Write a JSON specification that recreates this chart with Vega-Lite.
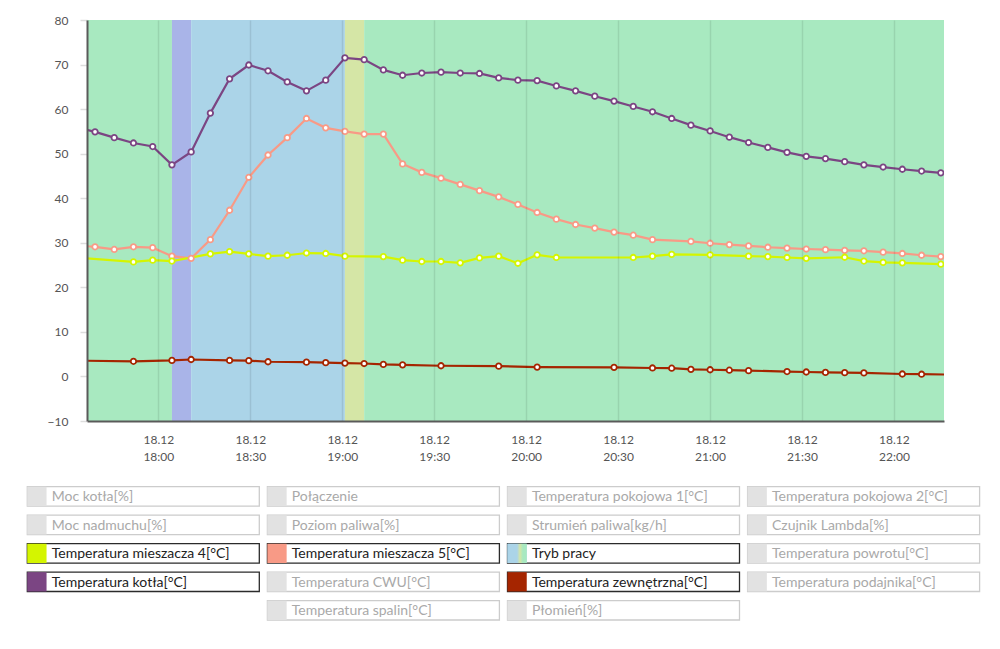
{
  "$schema": "https://vega.github.io/schema/vega-lite/v6.json",
  "autosize": {"type": "none"},
  "padding": {"left": 87, "top": 20, "right": 56, "bottom": 228},
  "width": 857,
  "height": 401,
  "background": "white",
  "config": {"font": "Lato", "view": {"stroke": null}},
  "datasets": {
    "temps": [
      {"s": "Temperatura kotła[°C]", "t": 1053.08, "v": 56.0},
      {"s": "Temperatura kotła[°C]", "t": 1059.35, "v": 54.9},
      {"s": "Temperatura kotła[°C]", "t": 1065.62, "v": 53.6},
      {"s": "Temperatura kotła[°C]", "t": 1071.89, "v": 52.4},
      {"s": "Temperatura kotła[°C]", "t": 1078.16, "v": 51.6},
      {"s": "Temperatura kotła[°C]", "t": 1084.44, "v": 47.5},
      {"s": "Temperatura kotła[°C]", "t": 1090.71, "v": 50.4},
      {"s": "Temperatura kotła[°C]", "t": 1096.98, "v": 59.1},
      {"s": "Temperatura kotła[°C]", "t": 1103.25, "v": 66.8},
      {"s": "Temperatura kotła[°C]", "t": 1109.52, "v": 69.9},
      {"s": "Temperatura kotła[°C]", "t": 1115.79, "v": 68.6},
      {"s": "Temperatura kotła[°C]", "t": 1122.06, "v": 66.1},
      {"s": "Temperatura kotła[°C]", "t": 1128.33, "v": 64.1},
      {"s": "Temperatura kotła[°C]", "t": 1134.61, "v": 66.5},
      {"s": "Temperatura kotła[°C]", "t": 1140.88, "v": 71.5},
      {"s": "Temperatura kotła[°C]", "t": 1147.15, "v": 71.1},
      {"s": "Temperatura kotła[°C]", "t": 1153.42, "v": 68.8},
      {"s": "Temperatura kotła[°C]", "t": 1159.69, "v": 67.6},
      {"s": "Temperatura kotła[°C]", "t": 1165.96, "v": 68.1},
      {"s": "Temperatura kotła[°C]", "t": 1172.23, "v": 68.3},
      {"s": "Temperatura kotła[°C]", "t": 1178.50, "v": 68.1},
      {"s": "Temperatura kotła[°C]", "t": 1184.78, "v": 68.0},
      {"s": "Temperatura kotła[°C]", "t": 1191.05, "v": 67.0},
      {"s": "Temperatura kotła[°C]", "t": 1197.32, "v": 66.5},
      {"s": "Temperatura kotła[°C]", "t": 1203.59, "v": 66.4},
      {"s": "Temperatura kotła[°C]", "t": 1209.86, "v": 65.2},
      {"s": "Temperatura kotła[°C]", "t": 1216.13, "v": 64.1},
      {"s": "Temperatura kotła[°C]", "t": 1222.40, "v": 62.9},
      {"s": "Temperatura kotła[°C]", "t": 1228.68, "v": 61.8},
      {"s": "Temperatura kotła[°C]", "t": 1234.95, "v": 60.6},
      {"s": "Temperatura kotła[°C]", "t": 1241.22, "v": 59.4},
      {"s": "Temperatura kotła[°C]", "t": 1247.49, "v": 57.9},
      {"s": "Temperatura kotła[°C]", "t": 1253.76, "v": 56.4},
      {"s": "Temperatura kotła[°C]", "t": 1260.03, "v": 55.1},
      {"s": "Temperatura kotła[°C]", "t": 1266.30, "v": 53.7},
      {"s": "Temperatura kotła[°C]", "t": 1272.57, "v": 52.5},
      {"s": "Temperatura kotła[°C]", "t": 1278.85, "v": 51.4},
      {"s": "Temperatura kotła[°C]", "t": 1285.12, "v": 50.3},
      {"s": "Temperatura kotła[°C]", "t": 1291.39, "v": 49.4},
      {"s": "Temperatura kotła[°C]", "t": 1297.66, "v": 48.9},
      {"s": "Temperatura kotła[°C]", "t": 1303.93, "v": 48.2},
      {"s": "Temperatura kotła[°C]", "t": 1310.20, "v": 47.5},
      {"s": "Temperatura kotła[°C]", "t": 1316.47, "v": 47.0},
      {"s": "Temperatura kotła[°C]", "t": 1322.74, "v": 46.5},
      {"s": "Temperatura kotła[°C]", "t": 1329.02, "v": 46.1},
      {"s": "Temperatura kotła[°C]", "t": 1335.29, "v": 45.7},

      {"s": "Temperatura mieszacza 5[°C]", "t": 1053.08, "v": 29.4},
      {"s": "Temperatura mieszacza 5[°C]", "t": 1059.35, "v": 29.1},
      {"s": "Temperatura mieszacza 5[°C]", "t": 1065.62, "v": 28.5},
      {"s": "Temperatura mieszacza 5[°C]", "t": 1071.89, "v": 29.1},
      {"s": "Temperatura mieszacza 5[°C]", "t": 1078.16, "v": 28.9},
      {"s": "Temperatura mieszacza 5[°C]", "t": 1084.44, "v": 27.0},
      {"s": "Temperatura mieszacza 5[°C]", "t": 1090.71, "v": 26.5},
      {"s": "Temperatura mieszacza 5[°C]", "t": 1096.98, "v": 30.7},
      {"s": "Temperatura mieszacza 5[°C]", "t": 1103.25, "v": 37.3},
      {"s": "Temperatura mieszacza 5[°C]", "t": 1109.52, "v": 44.7},
      {"s": "Temperatura mieszacza 5[°C]", "t": 1115.79, "v": 49.7},
      {"s": "Temperatura mieszacza 5[°C]", "t": 1122.06, "v": 53.6},
      {"s": "Temperatura mieszacza 5[°C]", "t": 1128.33, "v": 57.9},
      {"s": "Temperatura mieszacza 5[°C]", "t": 1134.61, "v": 55.8},
      {"s": "Temperatura mieszacza 5[°C]", "t": 1140.88, "v": 55.0},
      {"s": "Temperatura mieszacza 5[°C]", "t": 1147.15, "v": 54.4},
      {"s": "Temperatura mieszacza 5[°C]", "t": 1153.42, "v": 54.4},
      {"s": "Temperatura mieszacza 5[°C]", "t": 1159.69, "v": 47.7},
      {"s": "Temperatura mieszacza 5[°C]", "t": 1165.96, "v": 45.8},
      {"s": "Temperatura mieszacza 5[°C]", "t": 1172.23, "v": 44.5},
      {"s": "Temperatura mieszacza 5[°C]", "t": 1178.50, "v": 43.1},
      {"s": "Temperatura mieszacza 5[°C]", "t": 1184.78, "v": 41.7},
      {"s": "Temperatura mieszacza 5[°C]", "t": 1191.05, "v": 40.3},
      {"s": "Temperatura mieszacza 5[°C]", "t": 1197.32, "v": 38.6},
      {"s": "Temperatura mieszacza 5[°C]", "t": 1203.59, "v": 36.8},
      {"s": "Temperatura mieszacza 5[°C]", "t": 1209.86, "v": 35.3},
      {"s": "Temperatura mieszacza 5[°C]", "t": 1216.13, "v": 34.1},
      {"s": "Temperatura mieszacza 5[°C]", "t": 1222.40, "v": 33.3},
      {"s": "Temperatura mieszacza 5[°C]", "t": 1228.68, "v": 32.4},
      {"s": "Temperatura mieszacza 5[°C]", "t": 1234.95, "v": 31.7},
      {"s": "Temperatura mieszacza 5[°C]", "t": 1241.22, "v": 30.7},
      {"s": "Temperatura mieszacza 5[°C]", "t": 1253.76, "v": 30.3},
      {"s": "Temperatura mieszacza 5[°C]", "t": 1260.03, "v": 29.9},
      {"s": "Temperatura mieszacza 5[°C]", "t": 1266.30, "v": 29.6},
      {"s": "Temperatura mieszacza 5[°C]", "t": 1272.57, "v": 29.3},
      {"s": "Temperatura mieszacza 5[°C]", "t": 1278.85, "v": 29.0},
      {"s": "Temperatura mieszacza 5[°C]", "t": 1285.12, "v": 28.8},
      {"s": "Temperatura mieszacza 5[°C]", "t": 1291.39, "v": 28.6},
      {"s": "Temperatura mieszacza 5[°C]", "t": 1297.66, "v": 28.45},
      {"s": "Temperatura mieszacza 5[°C]", "t": 1303.93, "v": 28.3},
      {"s": "Temperatura mieszacza 5[°C]", "t": 1310.20, "v": 28.2},
      {"s": "Temperatura mieszacza 5[°C]", "t": 1316.47, "v": 27.9},
      {"s": "Temperatura mieszacza 5[°C]", "t": 1322.74, "v": 27.6},
      {"s": "Temperatura mieszacza 5[°C]", "t": 1329.02, "v": 27.2},
      {"s": "Temperatura mieszacza 5[°C]", "t": 1335.29, "v": 26.9},

      {"s": "Temperatura mieszacza 4[°C]", "t": 1053.08, "v": 26.7},
      {"s": "Temperatura mieszacza 4[°C]", "t": 1071.89, "v": 25.7},
      {"s": "Temperatura mieszacza 4[°C]", "t": 1078.16, "v": 26.1},
      {"s": "Temperatura mieszacza 4[°C]", "t": 1084.44, "v": 25.9},
      {"s": "Temperatura mieszacza 4[°C]", "t": 1096.98, "v": 27.5},
      {"s": "Temperatura mieszacza 4[°C]", "t": 1103.25, "v": 28.0},
      {"s": "Temperatura mieszacza 4[°C]", "t": 1109.52, "v": 27.5},
      {"s": "Temperatura mieszacza 4[°C]", "t": 1115.79, "v": 27.0},
      {"s": "Temperatura mieszacza 4[°C]", "t": 1122.06, "v": 27.2},
      {"s": "Temperatura mieszacza 4[°C]", "t": 1128.33, "v": 27.7},
      {"s": "Temperatura mieszacza 4[°C]", "t": 1134.61, "v": 27.6},
      {"s": "Temperatura mieszacza 4[°C]", "t": 1140.88, "v": 27.0},
      {"s": "Temperatura mieszacza 4[°C]", "t": 1153.42, "v": 26.9},
      {"s": "Temperatura mieszacza 4[°C]", "t": 1159.69, "v": 26.1},
      {"s": "Temperatura mieszacza 4[°C]", "t": 1165.96, "v": 25.8},
      {"s": "Temperatura mieszacza 4[°C]", "t": 1172.23, "v": 25.8},
      {"s": "Temperatura mieszacza 4[°C]", "t": 1178.50, "v": 25.5},
      {"s": "Temperatura mieszacza 4[°C]", "t": 1184.78, "v": 26.6},
      {"s": "Temperatura mieszacza 4[°C]", "t": 1191.05, "v": 27.0},
      {"s": "Temperatura mieszacza 4[°C]", "t": 1197.32, "v": 25.4},
      {"s": "Temperatura mieszacza 4[°C]", "t": 1203.59, "v": 27.3},
      {"s": "Temperatura mieszacza 4[°C]", "t": 1209.86, "v": 26.7},
      {"s": "Temperatura mieszacza 4[°C]", "t": 1234.95, "v": 26.7},
      {"s": "Temperatura mieszacza 4[°C]", "t": 1241.22, "v": 27.0},
      {"s": "Temperatura mieszacza 4[°C]", "t": 1247.49, "v": 27.4},
      {"s": "Temperatura mieszacza 4[°C]", "t": 1260.03, "v": 27.3},
      {"s": "Temperatura mieszacza 4[°C]", "t": 1272.57, "v": 27.0},
      {"s": "Temperatura mieszacza 4[°C]", "t": 1278.85, "v": 26.9},
      {"s": "Temperatura mieszacza 4[°C]", "t": 1285.12, "v": 26.7},
      {"s": "Temperatura mieszacza 4[°C]", "t": 1291.39, "v": 26.5},
      {"s": "Temperatura mieszacza 4[°C]", "t": 1303.93, "v": 26.75},
      {"s": "Temperatura mieszacza 4[°C]", "t": 1310.20, "v": 25.9},
      {"s": "Temperatura mieszacza 4[°C]", "t": 1316.47, "v": 25.6},
      {"s": "Temperatura mieszacza 4[°C]", "t": 1322.74, "v": 25.5},
      {"s": "Temperatura mieszacza 4[°C]", "t": 1335.29, "v": 25.2},

      {"s": "Temperatura zewnętrzna[°C]", "t": 1053.08, "v": 3.55},
      {"s": "Temperatura zewnętrzna[°C]", "t": 1071.89, "v": 3.4},
      {"s": "Temperatura zewnętrzna[°C]", "t": 1084.44, "v": 3.6},
      {"s": "Temperatura zewnętrzna[°C]", "t": 1090.71, "v": 3.8},
      {"s": "Temperatura zewnętrzna[°C]", "t": 1103.25, "v": 3.6},
      {"s": "Temperatura zewnętrzna[°C]", "t": 1109.52, "v": 3.55},
      {"s": "Temperatura zewnętrzna[°C]", "t": 1115.79, "v": 3.3},
      {"s": "Temperatura zewnętrzna[°C]", "t": 1128.33, "v": 3.2},
      {"s": "Temperatura zewnętrzna[°C]", "t": 1134.61, "v": 3.1},
      {"s": "Temperatura zewnętrzna[°C]", "t": 1140.88, "v": 3.0},
      {"s": "Temperatura zewnętrzna[°C]", "t": 1147.15, "v": 2.9},
      {"s": "Temperatura zewnętrzna[°C]", "t": 1153.42, "v": 2.7},
      {"s": "Temperatura zewnętrzna[°C]", "t": 1159.69, "v": 2.6},
      {"s": "Temperatura zewnętrzna[°C]", "t": 1172.23, "v": 2.4},
      {"s": "Temperatura zewnętrzna[°C]", "t": 1191.05, "v": 2.3},
      {"s": "Temperatura zewnętrzna[°C]", "t": 1203.59, "v": 2.1},
      {"s": "Temperatura zewnętrzna[°C]", "t": 1228.68, "v": 2.05},
      {"s": "Temperatura zewnętrzna[°C]", "t": 1241.22, "v": 1.9},
      {"s": "Temperatura zewnętrzna[°C]", "t": 1247.49, "v": 1.85},
      {"s": "Temperatura zewnętrzna[°C]", "t": 1253.76, "v": 1.6},
      {"s": "Temperatura zewnętrzna[°C]", "t": 1260.03, "v": 1.5},
      {"s": "Temperatura zewnętrzna[°C]", "t": 1266.30, "v": 1.4},
      {"s": "Temperatura zewnętrzna[°C]", "t": 1272.57, "v": 1.3},
      {"s": "Temperatura zewnętrzna[°C]", "t": 1285.12, "v": 1.1},
      {"s": "Temperatura zewnętrzna[°C]", "t": 1291.39, "v": 1.0},
      {"s": "Temperatura zewnętrzna[°C]", "t": 1297.66, "v": 0.9},
      {"s": "Temperatura zewnętrzna[°C]", "t": 1303.93, "v": 0.85},
      {"s": "Temperatura zewnętrzna[°C]", "t": 1310.20, "v": 0.8},
      {"s": "Temperatura zewnętrzna[°C]", "t": 1322.74, "v": 0.55},
      {"s": "Temperatura zewnętrzna[°C]", "t": 1329.02, "v": 0.5},
      {"s": "Temperatura zewnętrzna[°C]", "t": 1341.56, "v": 0.4}
    ],
    "modes": [
      {"mode": "Praca", "start": 1040, "end": 1084.44},
      {"mode": "Rozpalanie", "start": 1084.44, "end": 1090.71},
      {"mode": "Stabilizacja", "start": 1090.71, "end": 1140.88},
      {"mode": "Nadzór", "start": 1140.88, "end": 1147.15},
      {"mode": "Praca", "start": 1147.15, "end": 1350}
    ],
    "legend": [
      {"name": "Moc kotła[%]", "col": 1, "row": 1, "active": false},
      {"name": "Połączenie", "col": 2, "row": 1, "active": false},
      {"name": "Temperatura pokojowa 1[°C]", "col": 3, "row": 1, "active": false},
      {"name": "Temperatura pokojowa 2[°C]", "col": 4, "row": 1, "active": false},
      {"name": "Moc nadmuchu[%]", "col": 1, "row": 2, "active": false},
      {"name": "Poziom paliwa[%]", "col": 2, "row": 2, "active": false},
      {"name": "Strumień paliwa[kg/h]", "col": 3, "row": 2, "active": false},
      {"name": "Czujnik Lambda[%]", "col": 4, "row": 2, "active": false},
      {"name": "Temperatura mieszacza 4[°C]", "col": 1, "row": 3, "active": true},
      {"name": "Temperatura mieszacza 5[°C]", "col": 2, "row": 3, "active": true},
      {"name": "Tryb pracy", "col": 3, "row": 3, "active": true},
      {"name": "Temperatura powrotu[°C]", "col": 4, "row": 3, "active": false},
      {"name": "Temperatura kotła[°C]", "col": 1, "row": 4, "active": true},
      {"name": "Temperatura CWU[°C]", "col": 2, "row": 4, "active": false},
      {"name": "Temperatura zewnętrzna[°C]", "col": 3, "row": 4, "active": true},
      {"name": "Temperatura podajnika[°C]", "col": 4, "row": 4, "active": false},
      {"name": "Temperatura spalin[°C]", "col": 2, "row": 5, "active": false},
      {"name": "Płomień[%]", "col": 3, "row": 5, "active": false}
    ]
  },
  "layer": [
    {
      "layer": [
        {
          "data": {"name": "modes"},
          "mark": {"type": "rect", "clip": true},
          "encoding": {
            "x": {
              "field": "start", "type": "quantitative",
              "scale": {"domain": [1056.73, 1336.33], "nice": false, "zero": false},
              "axis": {
                "title": null,
                "grid": true,
                "gridColor": "#000000",
                "gridOpacity": 0.09,
                "gridWidth": 1.5,
                "ticks": false,
                "domain": true,
                "domainColor": "#5a5a5a",
                "domainWidth": 2,
                "values": [1080, 1110, 1140, 1170, 1200, 1230, 1260, 1290, 1320],
                "labelExpr": "['18.12', floor(datum.value / 60) + ':' + (datum.value % 60 < 10 ? '0' : '') + (datum.value % 60)]",
                "labelFont": "Lato",
                "labelFontSize": 12,
                "labelColor": "#555555",
                "labelPadding": 13,
                "labelLineHeight": 17,
                "labelFlush": false,
                "labelOverlap": false,
                "zindex": 1
              }
            },
            "x2": {"field": "end"},
            "fill": {
              "field": "mode", "type": "nominal",
              "scale": {
                "domain": ["Praca", "Rozpalanie", "Stabilizacja", "Nadzór"],
                "range": ["#a8e9c0", "#a9b4e8", "#abd4e8", "#d5e6a6"]
              },
              "legend": null
            }
          }
        },
        {
          "data": {"name": "temps"},
          "mark": {"type": "line", "clip": true, "strokeWidth": 2.2},
          "encoding": {
            "x": {"field": "t", "type": "quantitative"},
            "y": {
              "field": "v", "type": "quantitative",
              "scale": {"domain": [-10, 80], "nice": false, "zero": false},
              "axis": {
                "title": null,
                "grid": false,
                "values": [-10, 0, 10, 20, 30, 40, 50, 60, 70, 80],
                "tickColor": "#dddddd",
                "tickSize": 7,
                "tickWidth": 1.5,
                "labelPadding": 12,
                "labelFont": "Lato",
                "labelFontSize": 12,
                "labelColor": "#555555",
                "domainColor": "#5a5a5a",
                "domainWidth": 2,
                "zindex": 1
              }
            },
            "color": {"field": "s", "type": "nominal", "legend": null},
            "detail": {"field": "s"}
          }
        },
        {
          "data": {"name": "temps"},
          "mark": {"type": "point", "clip": true, "filled": false, "fill": "white", "fillOpacity": 1, "opacity": 1, "size": 30, "strokeWidth": 1.8},
          "encoding": {
            "x": {"field": "t", "type": "quantitative"},
            "y": {"field": "v", "type": "quantitative"},
            "color": {"field": "s", "type": "nominal", "legend": null}
          }
        }
      ]
    },
    {
      "data": {"name": "legend"},
      "encoding": {
        "x": {
          "field": "col", "type": "ordinal",
          "scale": {"domain": [1, 2, 3, 4], "range": [-59.7, 892.6], "paddingInner": 0.0337, "paddingOuter": 0},
          "axis": null
        },
        "y": {
          "field": "row", "type": "ordinal",
          "scale": {"domain": [1, 2, 3, 4, 5], "range": [466.7, 600], "paddingInner": 0.32, "paddingOuter": 0},
          "axis": null
        }
      },
      "layer": [
        {
          "mark": {"type": "rect", "fill": "white", "strokeWidth": 1.3},
          "encoding": {
            "stroke": {"condition": {"test": "datum.active", "value": "#2b2b2b"}, "value": "#cccccc"}
          }
        },
        {
          "mark": {"type": "point", "shape": "square", "filled": true, "opacity": 1, "size": 372, "xOffset": -106.4},
          "encoding": {
            "color": {"field": "name", "type": "nominal", "legend": null}
          }
        },
        {
          "transform": [{"filter": "datum.name === 'Tryb pracy'"}],
          "mark": {
            "type": "point", "shape": "square", "filled": true, "opacity": 1, "size": 372, "xOffset": -106.4,
            "fill": {
              "gradient": "linear", "x1": 0, "y1": 0, "x2": 1, "y2": 0,
              "stops": [
                {"offset": 0, "color": "#abd4e8"},
                {"offset": 0.5, "color": "#abd4e8"},
                {"offset": 0.65, "color": "#d5e6a6"},
                {"offset": 0.8, "color": "#a8e9c0"},
                {"offset": 1, "color": "#a8e9c0"}
              ]
            }
          }
        },
        {
          "mark": {"type": "text", "align": "left", "baseline": "middle", "dx": -91.6, "dy": 1, "font": "Lato", "fontSize": 14},
          "encoding": {
            "text": {"field": "name"},
            "color": {"condition": {"test": "datum.active", "value": "#222222"}, "value": "#a9a9a9"}
          }
        }
      ]
    }
  ],
  "resolve": {"scale": {"x": "independent", "y": "independent"}},
  "encoding": {
    "color": {
      "scale": {
        "domain": ["Moc kotła[%]", "Połączenie", "Temperatura pokojowa 1[°C]", "Temperatura pokojowa 2[°C]", "Moc nadmuchu[%]", "Poziom paliwa[%]", "Strumień paliwa[kg/h]", "Czujnik Lambda[%]", "Temperatura mieszacza 4[°C]", "Temperatura mieszacza 5[°C]", "Tryb pracy", "Temperatura powrotu[°C]", "Temperatura kotła[°C]", "Temperatura CWU[°C]", "Temperatura zewnętrzna[°C]", "Temperatura podajnika[°C]", "Temperatura spalin[°C]", "Płomień[%]"],
        "range": ["#e2e2e2", "#e2e2e2", "#e2e2e2", "#e2e2e2", "#e2e2e2", "#e2e2e2", "#e2e2e2", "#e2e2e2", "#d4f500", "#f89a86", "#abd4e8", "#e2e2e2", "#7b4583", "#e2e2e2", "#a52500", "#e2e2e2", "#e2e2e2", "#e2e2e2"]
      }
    }
  }
}
